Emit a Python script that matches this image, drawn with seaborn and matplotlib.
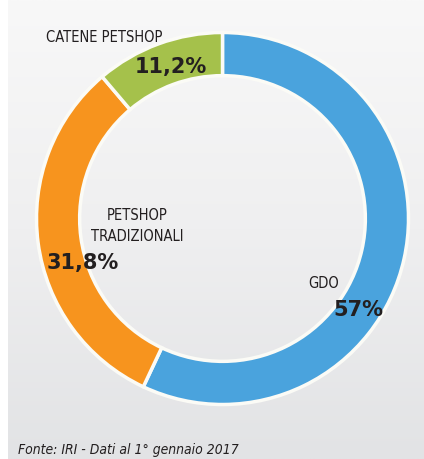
import numpy as np
import matplotlib
matplotlib.use("Agg")
import matplotlib.pyplot as plt
from matplotlib import font_manager
import seaborn as sns

# Ripartizione del mercato per canale
categories = ["GDO", "PETSHOP\nTRADIZIONALI", "CATENE PETSHOP"]
shares = [57.0, 31.8, 11.2]
value_labels = ["57%", "31,8%", "11,2%"]
source_note = "Fonte: IRI - Dati al 1° gennaio 2017"

sns.set_style("white")
palette = sns.color_palette(["#4aa3dd", "#f7941e", "#a5c14b"])

# carattere stretto per le etichette, se disponibile
names = {f.name for f in font_manager.fontManager.ttflist}
narrow = [n for n in ["Liberation Sans Narrow", "DejaVu Sans"] if n in names]
label_font = narrow + ["DejaVu Sans"]

W, H = 424, 459
fig = plt.figure(figsize=(W / 100, H / 100), dpi=100)
fig.patch.set_facecolor("white")

def fx(x):
    return x / W

def fy(y):
    return 1 - y / H

# pannello di sfondo con sfumatura verticale
bg = fig.add_axes([fx(8), 0, 1 - fx(8), 1], zorder=0)
grad = np.linspace(0, 1, 256)[:, None]
bg.imshow(grad, aspect="auto", extent=[0, 1, 0, 1], origin="upper",
          cmap=matplotlib.colors.LinearSegmentedColormap.from_list(
              "panel", ["#f8f8f8", "#efeff0", "#e2e3e5"]))
bg.set_axis_off()

# ciambella
cx, cy, r = 222.5, 218.5, 186
ax = fig.add_axes([fx(cx - r), fy(cy + r), 2 * r / W, 2 * r / H], zorder=1)
ax.pie(shares, colors=palette, startangle=90, counterclock=False,
       radius=1.0, wedgeprops=dict(width=0.232, edgecolor="#fbfbf6", linewidth=2.5))
ax.set_xlim(-1, 1)
ax.set_ylim(-1, 1)
ax.set_aspect("equal")
ax.set_axis_off()

dark = "#231f20"
lab_kw = dict(ha="center", va="center", family=label_font, fontstretch="condensed",
              fontsize=10.5, color=dark, zorder=3)

# etichette delle categorie
fig.text(fx(104), fy(37), categories[2], **lab_kw)
fig.text(fx(137), fy(226), categories[1], linespacing=1.5, **lab_kw)
fig.text(fx(324), fy(283), categories[0], **lab_kw)

# valori percentuali
pct_kw = dict(ha="center", va="center", fontsize=15, fontweight="bold",
              color=dark, family="DejaVu Sans", zorder=3)
fig.text(fx(171), fy(67), value_labels[2], **pct_kw)
fig.text(fx(83), fy(263), value_labels[1], **pct_kw)
fig.text(fx(358), fy(310), value_labels[0], **pct_kw)

# fonte
fig.text(fx(18), fy(450), source_note, ha="left", va="center",
         family=label_font, fontstretch="condensed", style="italic",
         fontsize=10, color=dark, zorder=3)

fig.savefig("out.png", dpi=100, facecolor=fig.get_facecolor())
